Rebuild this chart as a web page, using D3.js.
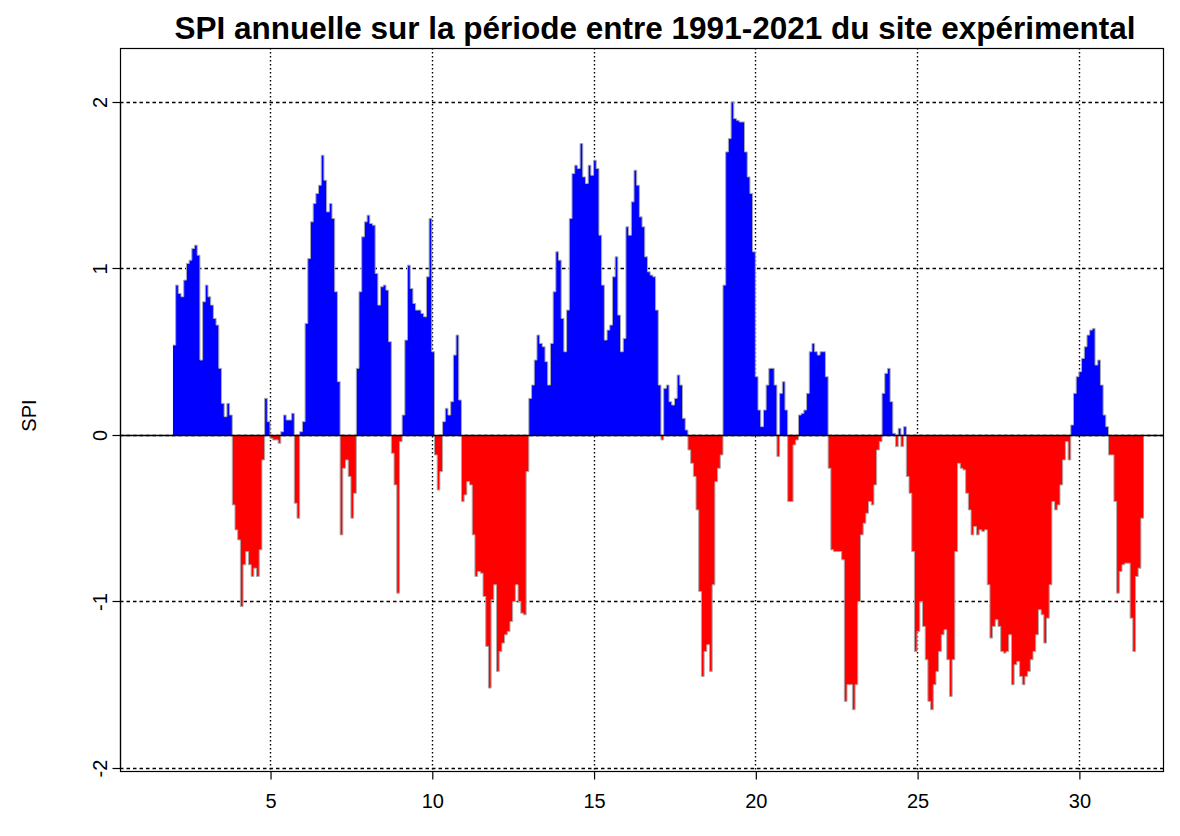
<!DOCTYPE html>
<html>
<head>
<meta charset="utf-8">
<script src="https://cdn.jsdelivr.net/npm/d3@7"></script>
<style>
  body { margin: 0; background: #ffffff; }
  text { font-family: "Liberation Sans", Arial, sans-serif; fill: #000; }
</style>
</head>
<body>
<svg id="chart" width="1180" height="836"></svg>
<script>
// Monthly 12-month SPI, one row per year (x = 2 ... 31)
const spi = [
   0.54,  0.90,  0.85,  0.83,  0.93,  1.03,  1.05,  1.12,  1.14,  1.08,  0.45,  0.80,
   0.90,  0.83,  0.78,  0.70,  0.66,  0.40,  0.19,  0.11,  0.19,  0.12, -0.42, -0.57,
  -0.63, -1.03, -0.78, -0.70, -0.78, -0.85, -0.80, -0.85, -0.69, -0.15,  0.22,  0.08,
  -0.02, -0.03, -0.03, -0.05,  0.02,  0.12,  0.09,  0.09,  0.13, -0.41, -0.50,  0.02,
   0.08,  0.67,  1.06,  1.28,  1.39,  1.45,  1.50,  1.68,  1.53,  1.34,  1.39,  1.30,
   0.86,  0.32, -0.60, -0.20, -0.15, -0.25, -0.50, -0.35,  0.40,  0.86,  1.19,  1.28,
   1.32,  1.27,  1.26,  0.97,  0.78,  0.89,  0.90,  0.87,  0.56, -0.11, -0.30, -0.95,
  -0.04,  0.12,  0.57,  1.02,  0.88,  0.79,  0.75,  0.75,  0.73,  0.71,  0.95,  1.30,
   0.50, -0.12, -0.33, -0.22,  0.08,  0.16,  0.12,  0.20,  0.48,  0.60,  0.21, -0.40,
  -0.36, -0.28, -0.30, -0.60, -0.85, -0.82, -0.83, -0.97, -1.27, -1.52, -0.99, -0.90,
  -1.42, -1.30, -1.25, -1.20, -1.18, -1.12, -1.00, -0.90, -1.00, -1.07, -1.08, -0.22,
   0.22,  0.30,  0.45,  0.60,  0.55,  0.53,  0.44,  0.30,  0.55,  0.86,  1.10,  1.05,
   0.70,  0.50,  0.75,  1.30,  1.57,  1.62,  1.60,  1.75,  1.55,  1.51,  1.62,  1.56,
   1.65,  1.60,  1.20,  0.90,  0.57,  0.63,  0.66,  0.95,  1.07,  0.72,  0.50,  0.58,
   1.25,  1.20,  1.40,  1.59,  1.50,  1.31,  1.25,  1.07,  0.98,  0.96,  0.95,  0.75,
   0.30, -0.03,  0.28,  0.30,  0.20,  0.18,  0.22,  0.36,  0.30,  0.10,  0.03, -0.09,
  -0.17, -0.25, -0.45, -0.94, -1.45, -1.30, -1.26, -1.42, -0.90, -0.28, -0.20, -0.12,
   0.90,  1.70,  1.78,  2.00,  1.90,  1.89,  1.88,  1.88,  1.70,  1.55,  1.45,  1.10,
   0.35,  0.15,  0.05,  0.15,  0.30,  0.40,  0.40,  0.30, -0.13,  0.25,  0.32,  0.15,
  -0.40, -0.40, -0.06, -0.03,  0.12,  0.13,  0.15,  0.25,  0.50,  0.55,  0.50,  0.48,
   0.50,  0.50,  0.35, -0.20, -0.69, -0.70, -0.70, -0.70, -0.75, -1.60, -1.50, -1.50,
  -1.65, -1.50, -1.00, -0.60, -0.53, -0.47, -0.40, -0.42, -0.30, -0.09, -0.04,  0.25,
   0.37,  0.40,  0.20,  0.01, -0.07,  0.04, -0.07,  0.05, -0.25, -0.35, -0.70, -1.30,
  -1.18, -1.00, -1.15, -1.35, -1.60, -1.65, -1.50, -1.42, -1.30, -1.20, -1.17, -1.35,
  -1.57, -1.35, -0.70, -0.17, -0.20, -0.21, -0.35, -0.45, -0.60, -0.55, -0.60, -0.57,
  -0.58, -0.57, -0.90, -1.22, -1.15, -1.11, -1.15, -1.30, -1.31, -1.30, -1.20, -1.50,
  -1.38, -1.36, -1.45, -1.50, -1.45, -1.42, -1.35, -1.30, -1.20, -1.05, -1.08, -1.25,
  -1.10, -0.90, -0.40, -0.45, -0.42, -0.30, -0.15, -0.04, -0.15,  0.06,  0.25,  0.35,
   0.38,  0.46,  0.53,  0.60,  0.63,  0.64,  0.42,  0.45,  0.30,  0.12,  0.05, -0.12,
  -0.12, -0.40, -0.95, -0.82, -0.78, -0.77, -0.77, -1.10, -1.30, -0.85, -0.80, -0.50
];
const firstX = 2;                 // time coordinate of the first month
const xTicks = [5, 10, 15, 20, 25, 30];
const yTicks = [-2, -1, 0, 1, 2];
const titleText = "SPI annuelle sur la période entre 1991-2021 du site expérimental";
const yLabelText = "SPI";

const svg = d3.select("#chart");
const box = { left: 120, right: 1163, top: 48, bottom: 771 };

const x = d3.scaleLinear().domain([0.363, 32.6]).range([box.left, box.right]);
const y = d3.scaleLinear().domain([-2.018, 2.324]).range([box.bottom, box.top]);

// series points, with a closing point so the last month keeps its width
const pts = spi.map((v, i) => ({ t: firstX + i / 12, v }));
pts.push({ t: firstX + spi.length / 12, v: spi[spi.length - 1] });

svg.append("clipPath").attr("id", "plotClip")
  .append("rect")
  .attr("x", box.left).attr("y", box.top)
  .attr("width", box.right - box.left).attr("height", box.bottom - box.top);

const plot = svg.append("g").attr("clip-path", "url(#plotClip)");

// dotted grid
plot.selectAll("line.vgrid").data(xTicks).join("line")
  .attr("class", "vgrid")
  .attr("x1", d => Math.round(x(d)) + 0.5).attr("x2", d => Math.round(x(d)) + 0.5)
  .attr("y1", box.top).attr("y2", box.bottom)
  .attr("stroke", "#000").attr("stroke-width", 1.4).attr("stroke-dasharray", "1.5,2.5");
plot.selectAll("line.hgrid").data(yTicks).join("line")
  .attr("class", "hgrid")
  .attr("y1", d => Math.round(y(d)) + 0.5).attr("y2", d => Math.round(y(d)) + 0.5)
  .attr("x1", box.left).attr("x2", box.right)
  .attr("stroke", "#000").attr("stroke-width", 1.4).attr("stroke-dasharray", "3.5,3");

// positive and negative fills
const areaPos = d3.area().curve(d3.curveStepAfter)
  .x(d => x(d.t)).y0(y(0)).y1(d => y(Math.max(d.v, 0)));
const areaNeg = d3.area().curve(d3.curveStepAfter)
  .x(d => x(d.t)).y0(y(0)).y1(d => y(Math.min(d.v, 0)));

plot.append("path").datum(pts).attr("d", areaPos).attr("fill", "#0000ff");
plot.append("path").datum(pts).attr("d", areaNeg).attr("fill", "#ff0000");

// series outline in dark grey
const line = d3.line().curve(d3.curveStepAfter).x(d => x(d.t)).y(d => y(d.v));
plot.append("path").datum(pts).attr("d", line)
  .attr("fill", "none").attr("stroke", "#a9a9a9").attr("stroke-width", 1);

// zero line
plot.append("line")
  .attr("x1", box.left).attr("x2", box.right)
  .attr("y1", Math.round(y(0)) + 0.5).attr("y2", Math.round(y(0)) + 0.5)
  .attr("stroke", "#000").attr("stroke-width", 1.5);

// frame
svg.append("rect")
  .attr("x", box.left + 0.5).attr("y", box.top + 0.5)
  .attr("width", box.right - box.left).attr("height", box.bottom - box.top)
  .attr("fill", "none").attr("stroke", "#000").attr("stroke-width", 1.2);

// x axis
const xAxis = d3.axisBottom(x).tickValues(xTicks).tickSize(8).tickPadding(14)
  .tickFormat(d3.format("d"));
const gx = svg.append("g").attr("transform", `translate(0.5,${box.bottom + 0.5})`).call(xAxis);
gx.select(".domain").remove();
gx.selectAll(".tick line").attr("stroke", "#000").attr("stroke-width", 1.2);
gx.selectAll(".tick text").attr("font-size", 20).attr("font-family", "Liberation Sans, Arial, sans-serif");

// y axis with labels parallel to the axis
const gy = svg.append("g").attr("transform", `translate(${box.left + 0.5},0.5)`);
gy.append("line")
  .attr("y1", y(yTicks[0])).attr("y2", y(yTicks[yTicks.length - 1]))
  .attr("stroke", "#000").attr("stroke-width", 1.2);
gy.selectAll("line.tk").data(yTicks).join("line")
  .attr("class", "tk")
  .attr("x1", 0).attr("x2", -8)
  .attr("y1", d => Math.round(y(d))).attr("y2", d => Math.round(y(d)))
  .attr("stroke", "#000").attr("stroke-width", 1.2);
gy.selectAll("text").data(yTicks).join("text")
  .attr("transform", d => `translate(-14,${y(d)}) rotate(-90)`)
  .attr("text-anchor", "middle")
  .attr("font-size", 20)
  .text(d => d);

// axis title
svg.append("text")
  .attr("transform", `translate(36,${(box.top + box.bottom) / 2 + 6}) rotate(-90)`)
  .attr("text-anchor", "middle")
  .attr("font-size", 20)
  .text(yLabelText);

// main title
svg.append("text")
  .attr("x", 655).attr("y", 39)
  .attr("text-anchor", "middle")
  .attr("font-size", 31.5)
  .attr("font-weight", "bold")
  .text(titleText);
</script>
</body>
</html>
